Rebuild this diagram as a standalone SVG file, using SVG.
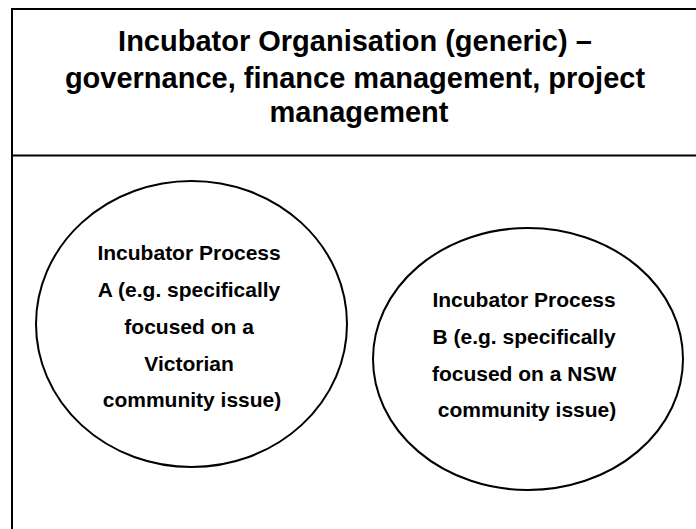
<svg xmlns="http://www.w3.org/2000/svg" width="696" height="529" viewBox="0 0 696 529">
  <style>
    .frame { fill: #ffffff; stroke: #000000; stroke-width: 2; }
    .bubble { fill: #ffffff; stroke: #000000; stroke-width: 2; }
    .title { font-family: "Liberation Sans", Arial, sans-serif; font-weight: bold; font-size: 29px; fill: #000000; text-anchor: middle; }
    .label { font-family: "Liberation Sans", Arial, sans-serif; font-weight: bold; font-size: 21px; fill: #000000; text-anchor: middle; }
  </style>
  <rect width="696" height="529" fill="#ffffff"/>

  <!-- organisation frame with header band -->
  <g id="organisation">
    <rect class="frame" x="12" y="9" width="720" height="540"/>
    <line x1="12" y1="155.5" x2="710" y2="155.5" stroke="#000000" stroke-width="2"/>
    <text class="title">
      <tspan x="359" y="51">Incubator Organisation (generic) –</tspan>
      <tspan x="359" y="88">governance, finance management, project</tspan>
      <tspan x="359" y="122">management</tspan>
    </text>
  </g>

  <g id="connectors"></g>

  <!-- process A -->
  <g id="process-a">
    <ellipse class="bubble" cx="191.5" cy="324" rx="155.5" ry="143"/>
    <text class="label">
      <tspan x="192" y="260">Incubator Process</tspan>
      <tspan x="192" y="297">A (e.g. specifically</tspan>
      <tspan x="192" y="333.5">focused on a</tspan>
      <tspan x="192" y="370.5">Victorian</tspan>
      <tspan x="192" y="407">community issue)</tspan>
    </text>
  </g>

  <!-- process B -->
  <g id="process-b">
    <ellipse class="bubble" cx="528" cy="359" rx="155" ry="131"/>
    <text class="label">
      <tspan x="527" y="307">Incubator Process</tspan>
      <tspan x="527" y="344">B (e.g. specifically</tspan>
      <tspan x="527" y="380.5">focused on a NSW</tspan>
      <tspan x="527" y="417">community issue)</tspan>
    </text>
  </g>
</svg>
